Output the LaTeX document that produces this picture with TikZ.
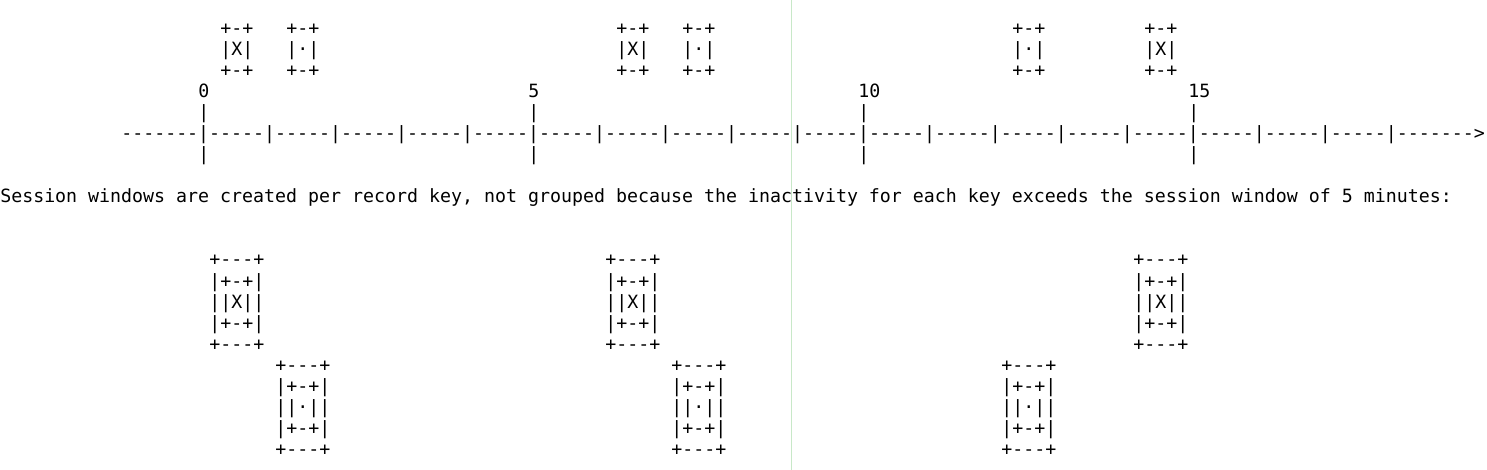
\documentclass[tikz,border=0pt]{standalone}
\usepackage{fontspec}
\usepackage{tikz}
\newfontfamily\asciifont{DejaVu Sans Mono}
\definecolor{guide}{RGB}{200,232,200}

\begin{document}
\begin{tikzpicture}[
  x=0.75pt,y=-0.75pt,
  ascii/.style={font=\asciifont\fontsize{13.7pt}{15.75pt}\selectfont, inner sep=0pt, anchor=base west},
  guideline/.style={draw=guide, line width=0.75pt}
]
\useasboundingbox (0,0) rectangle (1487,470);

% faint vertical guide
\coordinate (gtop) at (791,0);
\coordinate (gbot) at (791,470);
\draw[guideline] (gtop) -- (gbot);

% ================= Records above the time line =================
\foreach \col/\mark [count=\i] in {220/X, 286/·, 616/X, 682/·, 1012/·, 1144/X} {
  \node[ascii] (rec\i top) at (\col,35) {+-+};
  \node[ascii] (rec\i mid) at (\col,56) {|\mark|};
  \node[ascii] (rec\i bot) at (\col,77) {+-+};
}

% ================= Time line =================
\foreach \col/\lbl in {198/0, 528/5, 858/10, 1188/15} {
  \node[ascii] (lbl\lbl) at (\col,98) {\lbl};
  \node[ascii] (up\lbl) at (\col,119) {|};
  \node[ascii] (down\lbl) at (\col,161) {|};
}
\node[ascii] (axis) at (121,140)
  {-------|-----|-----|-----|-----|-----|-----|-----|-----|-----|-----|-----|-----|-----|-----|-----|-----|-----|-----|------->};

% caption
\node[ascii] (caption) at (0,203)
  {Session windows are created per record key, not grouped because the inactivity for each key exceeds the session window of 5 minutes:};

% ================= Session windows =================
\foreach \col/\row/\mark [count=\i] in {209/266/X, 275/371/·, 605/266/X, 671/371/·, 1133/266/X, 1001/371/·} {
  \node[ascii] (win\i a) at (\col,\row) {+---+};
  \node[ascii] (win\i b) at (\col,{\row+21}) {|+-+|};
  \node[ascii] (win\i c) at (\col,{\row+42}) {||\mark||};
  \node[ascii] (win\i d) at (\col,{\row+63}) {|+-+|};
  \node[ascii] (win\i e) at (\col,{\row+84}) {+---+};
}

\end{tikzpicture}
\end{document}
